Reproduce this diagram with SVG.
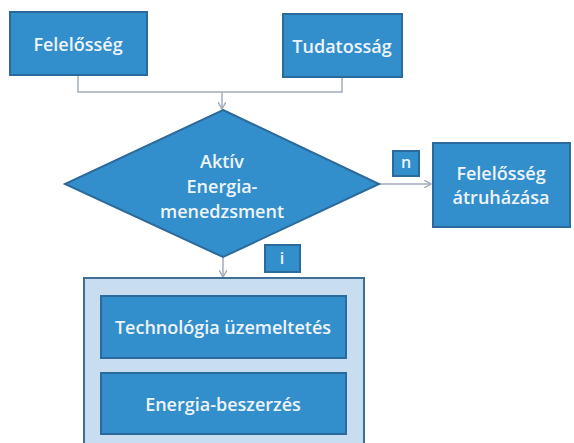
<svg xmlns="http://www.w3.org/2000/svg" width="574" height="443" viewBox="0 0 574 443">
<style>
.box{fill:#338fcb;stroke:#2b6a9c;stroke-width:2}
.lbl{fill:#eef4fa;font-family:"Open Sans","DejaVu Sans",sans-serif;font-size:18px;font-weight:600;text-anchor:middle;dominant-baseline:central}
.sm{font-size:16px}
.con{fill:none;stroke:#a3adbb;stroke-width:1.5}
</style>
<defs>
<marker id="ah" markerWidth="8" markerHeight="8" refX="7" refY="4" orient="auto" markerUnits="userSpaceOnUse">
<path d="M0,0 L7,4 L0,8" fill="none" stroke="#a3adbb" stroke-width="1.5"/>
</marker>
</defs>
<rect width="574" height="443" fill="#ffffff"/>
<g id="connectors">
<polyline class="con" points="78,75 78,92 342,92 342,77"/>
<line class="con" x1="222" y1="92" x2="222" y2="109" marker-end="url(#ah)"/>
<line class="con" x1="379" y1="184" x2="431" y2="184" marker-end="url(#ah)"/>
<line class="con" x1="223" y1="257" x2="223" y2="277" marker-end="url(#ah)"/>
</g>
<g id="felelosseg">
<rect class="box" x="10" y="12" width="137" height="63"/>
<text class="lbl" x="78" y="44">Felelősség</text>
</g>
<g id="tudatossag">
<rect class="box" x="283" y="14" width="119" height="63"/>
<text class="lbl" x="342" y="46">Tudatosság</text>
</g>
<g id="aktiv">
<polygon class="box" points="223,110 379,184 223,257 65,184"/>
<text class="lbl" x="222" y="161">Aktív</text>
<text class="lbl" x="222" y="186">Energia-</text>
<text class="lbl" x="222" y="211">menedzsment</text>
</g>
<g id="label-n">
<rect class="box" x="393" y="151" width="26" height="25" stroke-width="1"/>
<text class="lbl sm" x="406" y="162">n</text>
</g>
<g id="atruhazas">
<rect class="box" x="433" y="143" width="137" height="84"/>
<text class="lbl" x="501" y="173">Felelősség</text>
<text class="lbl" x="501" y="197">átruházása</text>
</g>
<g id="label-i">
<rect class="box" x="265" y="245" width="35" height="27" stroke-width="1"/>
<text class="lbl sm" x="282" y="258">i</text>
</g>
<g id="container">
<rect x="84" y="278" width="280" height="175" fill="#c8ddef" stroke="#3f6f99" stroke-width="2"/>
</g>
<g id="technologia">
<rect class="box" x="101" y="296" width="245" height="62"/>
<text class="lbl" x="223" y="327">Technológia üzemeltetés</text>
</g>
<g id="beszerzes">
<rect class="box" x="101" y="373" width="245" height="61"/>
<text class="lbl" x="223" y="404">Energia-beszerzés</text>
</g>
</svg>
